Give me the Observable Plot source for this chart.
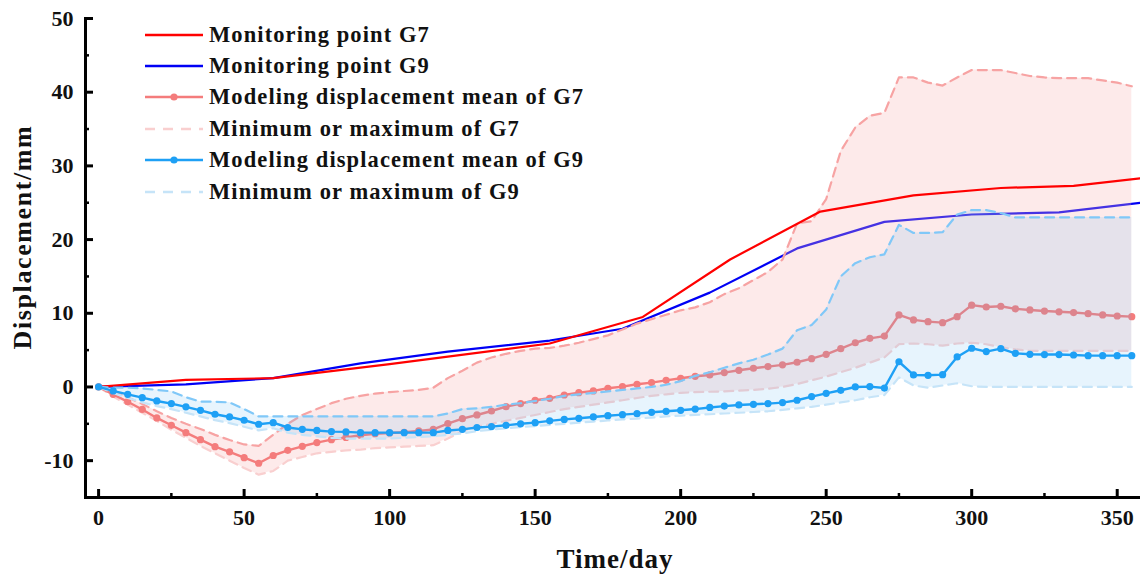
<!DOCTYPE html>
<html>
<head>
<meta charset="utf-8">
<script src="https://cdn.jsdelivr.net/npm/d3@7"></script>
<script src="https://cdn.jsdelivr.net/npm/@observablehq/plot@0.6"></script>
<style>
  html, body { margin: 0; padding: 0; background: #fff; }
  #wrap { position: relative; width: 1140px; height: 579px; font-family: "Liberation Serif", "Times New Roman", serif; }
  #legend { position: absolute; left: 145px; top: 19px; }
  .row { display: flex; align-items: center; height: 31.4px; }
  .row svg { width: 58px; height: 20px; margin-right: 6px; }
  .row span { font-size: 22.5px; letter-spacing: 1.1px; font-weight: bold; color: #111; white-space: nowrap; }
</style>
</head>
<body>
<div id="wrap"><div id="chart"></div><div id="legend"></div></div>
<script>
// ---- data ----
const modelDays = [0,5,10,15,20,25,30,35,40,45,50,55,60,65,70,75,80,85,90,95,100,105,110,115,120,125,130,135,140,145,150,155,160,165,170,175,180,185,190,195,200,205,210,215,220,225,230,235,240,245,250,255,260,265,270,275,280,285,290,295,300,305,310,315,320,325,330,335,340,345,350,355];

const meanG7 = [0,-1.0,-2.0,-3.05,-4.2,-5.2,-6.2,-7.15,-8.1,-8.8,-9.6,-10.35,-9.3,-8.6,-8.05,-7.55,-7.15,-6.85,-6.55,-6.35,-6.25,-6.15,-5.97,-5.75,-4.97,-4.3,-3.8,-3.26,-2.67,-2.26,-1.8,-1.54,-1.09,-0.77,-0.54,-0.18,0.05,0.36,0.59,0.9,1.18,1.45,1.63,1.95,2.26,2.54,2.76,3.0,3.35,3.84,4.43,5.2,6.0,6.6,6.9,9.77,9.1,8.86,8.73,9.54,11.1,10.85,10.95,10.6,10.45,10.3,10.2,10.1,9.95,9.77,9.63,9.54];
const maxG7 = [0,-0.6,-1.4,-2.3,-3.3,-4.2,-5.0,-5.7,-6.5,-7.2,-7.8,-8.0,-6.5,-5.0,-3.8,-3.0,-2.2,-1.6,-1.2,-0.9,-0.7,-0.55,-0.4,-0.1,1.2,2.2,3.3,4.0,4.5,4.9,5.2,5.3,5.6,6.0,6.5,7.0,7.8,8.6,9.2,9.8,10.4,10.8,11.5,12.6,13.4,14.5,15.6,17.3,22.2,22.5,25.5,32.0,35.2,36.8,37.2,42.0,42.0,41.3,40.9,42.0,43.0,43.0,43.0,42.6,42.2,42.0,41.9,41.9,41.9,41.6,41.3,40.8];
const minG7 = [0,-1.3,-2.4,-3.5,-4.6,-5.8,-6.9,-8.0,-9.0,-10.0,-11.0,-11.9,-11.4,-10.0,-9.5,-9.0,-8.8,-8.6,-8.5,-8.3,-8.2,-8.1,-8.0,-7.9,-7.0,-6.0,-5.4,-5.0,-4.6,-4.2,-3.8,-3.4,-3.0,-2.7,-2.4,-2.1,-1.8,-1.5,-1.2,-1.0,-0.8,-0.7,-0.65,-0.6,-0.5,-0.4,-0.25,0.0,0.4,0.9,1.4,2.0,2.6,3.3,4.0,5.8,5.9,5.8,5.6,5.9,6.0,5.8,5.4,5.1,4.9,4.9,4.9,4.9,4.9,4.9,4.9,4.9];

const meanG9 = [0,-0.54,-1.0,-1.45,-1.9,-2.26,-2.7,-3.17,-3.7,-4.07,-4.52,-5.06,-4.84,-5.5,-5.75,-5.9,-6.06,-6.1,-6.2,-6.2,-6.2,-6.2,-6.2,-6.2,-5.9,-5.75,-5.5,-5.38,-5.2,-5.0,-4.84,-4.6,-4.4,-4.25,-4.07,-3.9,-3.76,-3.62,-3.44,-3.3,-3.17,-3.0,-2.78,-2.6,-2.44,-2.35,-2.26,-2.12,-1.8,-1.31,-0.86,-0.45,0.0,0.05,-0.15,3.42,1.63,1.58,1.67,4.07,5.25,4.8,5.2,4.57,4.43,4.4,4.4,4.34,4.25,4.25,4.25,4.25];
const maxG9 = [0,-0.1,-0.1,-0.2,-0.4,-0.6,-1.4,-2.0,-2.0,-2.1,-3.0,-4.0,-4.0,-4.0,-4.0,-4.0,-4.0,-4.0,-4.0,-4.0,-4.0,-4.0,-4.0,-4.0,-3.6,-3.0,-2.9,-2.7,-2.4,-2.2,-1.9,-1.6,-1.2,-1.0,-0.8,-0.6,-0.4,-0.2,0.0,0.3,0.8,1.5,2.0,2.6,3.2,3.7,4.4,5.2,7.7,8.4,10.5,15.0,16.8,17.6,18.0,22.0,20.9,20.9,21.0,23.4,24.0,24.0,23.6,23.0,23.0,23.0,23.0,23.0,23.0,23.0,23.0,23.0];
const minG9 = [0,-0.8,-1.5,-2.1,-2.6,-3.0,-3.5,-4.0,-4.5,-4.9,-5.4,-5.9,-5.6,-6.2,-6.5,-6.7,-6.9,-7.0,-7.0,-7.0,-7.0,-6.9,-6.8,-6.7,-6.5,-6.3,-6.0,-5.8,-5.6,-5.45,-5.3,-5.15,-5.0,-4.85,-4.7,-4.55,-4.4,-4.3,-4.15,-4.0,-3.9,-3.8,-3.7,-3.6,-3.5,-3.4,-3.3,-3.1,-2.9,-2.7,-2.4,-2.1,-1.8,-1.4,-1.1,1.3,0.2,-0.1,0.2,0.5,0.1,0,0,0,0,0,0,0,0,0,0,0];

const monG7Days = [0,30,60,100,155,187,217,248,280,310,335,358];
const monG7 = [0,0.95,1.2,3.1,5.9,9.5,17.3,23.8,26.0,27.0,27.3,28.3];
const monG9Days = [0,30,60,90,120,155,180,210,240,270,300,330,358];
const monG9 = [0,0.35,1.2,3.2,4.8,6.3,7.9,12.8,18.8,22.4,23.4,23.7,25.0];

const xMajor = [0,50,100,150,200,250,300,350];
const xMinor = [25,75,125,175,225,275,325];
const yMajor = [-10,0,10,20,30,40,50];
const yMinor = [-5,5,15,25,35,45];

const seriesNames = ["Monitoring point G7","Monitoring point G9","Modeling displacement mean of G7","Minimum or maximum of G7","Modeling displacement mean of G9","Minimum or maximum of G9"];
const xTitle = "Time/day";
const yTitle = "Displacement/mm";

// ---- tables ----
const model = modelDays.map((d, i) => ({day: d, m7: meanG7[i], hi7: maxG7[i], lo7: minG7[i], m9: meanG9[i], hi9: maxG9[i], lo9: minG9[i]}));
const mon7 = monG7Days.map((d, i) => ({day: d, v: monG7[i]}));
const mon9 = monG9Days.map((d, i) => ({day: d, v: monG9[i]}));

const C = {
  red: "#ff0000", blue: "#0000f5",
  mean7: "#f47c7c", hi7: "#f7a3a3", lo7: "#f9cfcf", band7: "#f7b4b4",
  mean9: "#1ea0f5", hi9: "#80c8f8", lo9: "#c6e4f8", band9: "#60b8f0"
};
const font = "Liberation Serif";
const fmt = d => String(d);

const chart = Plot.plot({
  width: 1140, height: 579,
  marginLeft: 85, marginRight: 0, marginTop: 18, marginBottom: 82,
  style: {fontFamily: font, background: "#fff", overflow: "visible"},
  x: {domain: [-4.5, 358]},
  y: {domain: [-15, 50]},
  marks: [
    // monitoring G9 (under the G7 band)
    Plot.line(mon9, {x: "day", y: "v", stroke: C.blue, strokeWidth: 2.2, clip: true}),
    // G7 band
    Plot.areaY(model, {x: "day", y1: "lo7", y2: "hi7", fill: C.band7, fillOpacity: 0.28}),
    Plot.line(model, {x: "day", y: "lo7", stroke: C.lo7, strokeWidth: 2.2, strokeDasharray: "9,6"}),
    Plot.line(model, {x: "day", y: "hi7", stroke: C.hi7, strokeWidth: 2.2, strokeDasharray: "9,6"}),
    Plot.line(mon7, {x: "day", y: "v", stroke: C.red, strokeWidth: 2.2, clip: true}),
    Plot.line(model, {x: "day", y: "m7", stroke: C.mean7, strokeWidth: 2.4}),
    Plot.dot(model, {x: "day", y: "m7", fill: C.mean7, r: 3.6}),
    // G9 band
    Plot.areaY(model, {x: "day", y1: "lo9", y2: "hi9", fill: C.band9, fillOpacity: 0.15}),
    Plot.line(model, {x: "day", y: "lo9", stroke: C.lo9, strokeWidth: 2.2, strokeDasharray: "9,6"}),
    Plot.line(model, {x: "day", y: "hi9", stroke: C.hi9, strokeWidth: 2.2, strokeDasharray: "9,6"}),
    Plot.line(model, {x: "day", y: "m9", stroke: C.mean9, strokeWidth: 2.4}),
    Plot.dot(model, {x: "day", y: "m9", fill: C.mean9, r: 3.6}),
    // axes
    Plot.frame({anchor: "left", stroke: "#000", strokeWidth: 3}),
    Plot.frame({anchor: "bottom", stroke: "#000", strokeWidth: 3}),
    Plot.axisX({ticks: xMajor, tickSize: 8, dy: -8, text: null, label: null, stroke: "#000", strokeWidth: 3}),
    Plot.axisX({ticks: xMinor, tickSize: 4, dy: -4, text: null, label: null, stroke: "#000", strokeWidth: 2.5}),
    Plot.axisY({ticks: yMajor, tickSize: 8, dx: 8, text: null, label: null, stroke: "#000", strokeWidth: 3}),
    Plot.axisY({ticks: yMinor, tickSize: 4, dx: 4, text: null, label: null, stroke: "#000", strokeWidth: 2.5}),
    Plot.axisX({ticks: xMajor, tickFormat: fmt, tickSize: 0, tickPadding: 12, fontSize: 22, fontWeight: "bold", fill: "#111", label: null}),
    Plot.axisY({ticks: yMajor, tickFormat: fmt, tickSize: 0, tickPadding: 12, fontSize: 22, fontWeight: "bold", fill: "#111", label: null}),
    Plot.text([xTitle], {frameAnchor: "bottom", dx: 2, dy: 70, fontSize: 27, fontWeight: "bold", fill: "#111", style: "letter-spacing:1px"}),
    Plot.text([yTitle], {frameAnchor: "left", textAnchor: "middle", dx: -63, dy: -21, rotate: -90, fontSize: 26, fontWeight: "bold", fill: "#111"})
  ]
});
document.getElementById("chart").appendChild(chart);
// slightly widen the axis titles like the reference
chart.querySelectorAll("text").forEach(t => {
  if (t.textContent === yTitle) t.setAttribute("letter-spacing", "1.6");
  if (t.textContent === xTitle) t.setAttribute("letter-spacing", "1");
});

// ---- legend ----
const swatches = [
  {stroke: C.red, dash: null, dot: false},
  {stroke: C.blue, dash: null, dot: false},
  {stroke: C.mean7, dash: null, dot: true},
  {stroke: C.lo7, dash: "10,8", dot: false},
  {stroke: C.mean9, dash: null, dot: true},
  {stroke: C.lo9, dash: "10,8", dot: false}
];
const legend = document.getElementById("legend");
seriesNames.forEach((name, i) => {
  const s = swatches[i];
  const row = document.createElement("div");
  row.className = "row";
  row.innerHTML = `<svg viewBox="0 0 58 20"><line x1="0" y1="10" x2="58" y2="10" stroke="${s.stroke}" stroke-width="2.4" ${s.dash ? `stroke-dasharray="${s.dash}"` : ""}/>${s.dot ? `<circle cx="29" cy="10" r="3.6" fill="${s.stroke}"/>` : ""}</svg><span>${name}</span>`;
  legend.appendChild(row);
});
</script>
</body>
</html>
